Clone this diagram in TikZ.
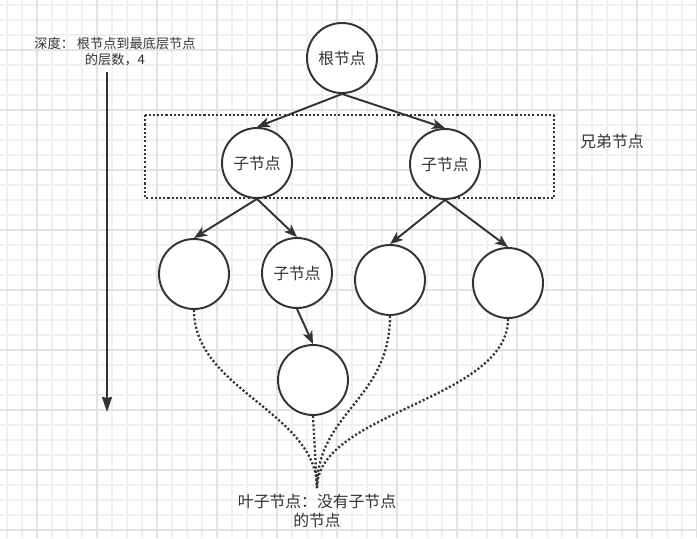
\documentclass[tikz,border=0pt]{standalone}
\usepackage{fontspec}
\newfontfamily\cjk{Noto Sans CJK SC}
\usetikzlibrary{arrows.meta}
\definecolor{ink}{HTML}{333333}
\definecolor{gridminor}{HTML}{F0F0F0}
\definecolor{gridmajor}{HTML}{E2E2E2}
\begin{document}
\begin{tikzpicture}[x=0.02cm, y=-0.02cm, line join=round, font=\cjk\fontsize{9}{11.3}\selectfont,
  >={Stealth[length=7.4pt,width=5.8pt,inset=2pt]},
  treenode/.style={circle, draw=ink, line width=1.1pt, minimum size=1.4cm, inner sep=0pt, text=ink, fill=white},
  link/.style={->, draw=ink, line width=1.1pt},
  leafline/.style={draw=ink, line width=1.3pt, dash pattern=on 1.2pt off 1.2pt},
  note/.style={text=ink, align=center, inner sep=0pt}]
\useasboundingbox (0,0) rectangle (697,538);
\fill[white] (0,0) rectangle (697,538);
% grid
\foreach \gx in {7,22,...,697} \draw[gridminor, line width=0.6pt] (\gx,0) -- (\gx,538);
\foreach \gy in {5,20,...,538} \draw[gridminor, line width=0.6pt] (0,\gy) -- (697,\gy);
\foreach \gx in {37,97,...,697} \draw[gridmajor, line width=0.6pt] (\gx,0) -- (\gx,538);
\foreach \gy in {50,110,...,538} \draw[gridmajor, line width=0.6pt] (0,\gy) -- (697,\gy);

% siblings box
\draw[leafline] (145,115) rectangle (554,198);
\node[note] (sib) at (612,141) {兄弟节点};

% tree
\node[treenode] (root) at (342,58) {根节点};
\node[treenode] (cl) at (257,163) {子节点};
\node[treenode] (cr) at (445,164) {子节点};
\node[treenode] (la) at (194,274) {};
\node[treenode] (lb) at (297,273) {子节点};
\node[treenode] (lc) at (390,280) {};
\node[treenode] (ld) at (508,283) {};
\node[treenode] (le) at (313,380) {};

\draw[link] (root.south) -- (cl.north);
\draw[link] (root.south) -- (cr.north);
\draw[link] (cl.south) -- (la.north);
\draw[link] (cl.south) -- (lb.north);
\draw[link] (cr.south) -- (lc.north);
\draw[link] (cr.south) -- (ld.north);
\draw[link] (lb.south) -- (le.north);

% leaves
\coordinate (leaf) at (317,488);
\node[note] (leaftext) at (317,511) {叶子节点：没有子节点\\的节点};
\draw[leafline] (la.south) .. controls (194,390) and (317,412) .. (leaf);
\draw[leafline] (lc.south) .. controls (390,400) and (317,412) .. (leaf);
\draw[leafline] (ld.south) .. controls (508,400) and (317,412) .. (leaf);
\draw[leafline] (le.south) -- (leaf);

% depth
\node[note, font=\cjk\fontsize{7.5}{9.2}\selectfont] (depth) at (115,52) {深度： 根节点到最底层节点\\的层数，4};
\coordinate (dtop) at (107,72);
\coordinate (dbot) at (107,412);
\draw[->, draw=ink, line width=1.1pt, >={Stealth[length=8.5pt,width=5.6pt,inset=0.5pt]}] (dtop) -- (dbot);
\end{tikzpicture}
\end{document}
